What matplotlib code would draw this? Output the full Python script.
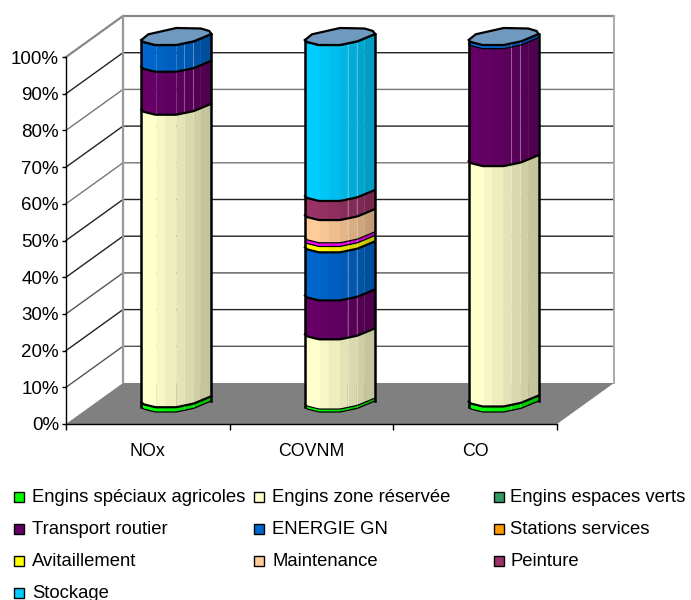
import numpy as np
import matplotlib
matplotlib.use("Agg")
import matplotlib.pyplot as plt
from matplotlib.patches import Rectangle

plt.rcParams['font.family'] = ['Liberation Sans', 'DejaVu Sans']

categories = ["NOx", "COVNM", "CO"]
series_names = ["Engins spéciaux agricoles", "Engins zone réservée", "Engins espaces verts",
                "Transport routier", "ENERGIE GN", "Stations services",
                "Avitaillement", "Autres", "Maintenance", "Peinture", "Stockage"]
series_colors = ["#00FF00", "#FFFFCC", "#339966", "#660066", "#0066CC", "#FF9900",
                 "#FFFF00", "#FF00FF", "#FFCC99", "#993366", "#00CCFF"]

# percent per category, NOx / COVNM / CO
agricoles = [1.3, 0.8, 1.5]
zone_reservee = [79.7, 19.0, 65.5]
espaces_verts = [0.0, 0.0, 0.0]
transport = [11.7, 10.6, 32.0]
energie = [7.3, 13.1, 1.0]
stations = [0.0, 0.0, 0.0]
avitaillement = [0.0, 1.6, 0.0]
autres = [0.0, 1.0, 0.0]
maintenance = [0.0, 6.2, 0.0]
peinture = [0.0, 5.2, 0.0]
stockage = [0.0, 42.5, 0.0]

series = [agricoles, zone_reservee, espaces_verts, transport, energie, stations,
          avitaillement, autres, maintenance, peinture, stockage]

legend_hidden = ["Autres"]

fig = plt.figure(figsize=(6.91, 6.0), dpi=100)
ax = fig.add_axes([66 / 691, (600 - 424) / 600, 491 / 691, 367 / 600])
ax.set_xlim(0, 3)
ax.set_ylim(0, 100)

# size of one pixel in data units
px_x = 3 / 491
px_y = 100 / 367
depth_x = 57 * px_x
depth_y = 41 * px_y


def wall_line(y, color, lw):
    ax.plot([0, depth_x, 3 + depth_x], [y, y + depth_y, y + depth_y],
            color=color, lw=lw, clip_on=False, zorder=1, solid_joinstyle='miter')


# floor and back wall
ax.fill([0, 3, 3 + depth_x, depth_x], [0, 0, depth_y, depth_y], color="#808080", lw=0, clip_on=False, zorder=1)
grid_colors = ["#555555", "#222222", "#555555", "#222222", "#222222",
               "#777777", "#222222", "#777777", "#222222"]
for y, c in zip(range(10, 100, 10), grid_colors):
    wall_line(y, c, 1.0)
wall_line(100, "#888888", 1.6)
ax.plot([depth_x, depth_x], [depth_y, 100 + depth_y], color="#999999", lw=1.6, clip_on=False, zorder=2)
ax.plot([3 + depth_x, 3 + depth_x], [depth_y, 100 + depth_y], color="#aaaaaa", lw=1.4, clip_on=False, zorder=2)

# outline of a bar section, as width fraction and pixel offset from the lowest point
low_frac = np.array([0, 0.03, 0.2, 0.5, 0.75, 1.0])
low_dy = np.array([5, 3, 0, 0, 3.7, 11])
cap_frac = np.array([1.0, 0.97, 0.85, 0.5, 0.1, 0.0])
cap_dy = np.array([11, 14, 16.5, 17, 10.7, 5])

# shading facets around the bar
facet_edges = [0, 0.22, 0.34, 0.5, 0.61, 0.74, 0.85, 1.0]
facet_shade = [1.0, 0.97, 0.93, 0.89, 0.85, 0.81, 0.77]

bar_w = 70 * px_x
base = 12 * px_y

for i, cat in enumerate(categories):
    x0 = i + 0.5 + depth_x / 2 - bar_w / 2
    bottom = 0.0
    for values, color in zip(series, series_colors):
        v = values[i]
        if v <= 0:
            continue
        top = bottom + v
        rgb = np.array(matplotlib.colors.to_rgb(color))
        for k, shade in enumerate(facet_shade):
            fr = np.linspace(facet_edges[k], facet_edges[k + 1], 8)
            dy = np.interp(fr, low_frac, low_dy) * px_y
            ax.fill(np.r_[x0 + fr * bar_w, x0 + fr[::-1] * bar_w],
                    np.r_[base + bottom + dy, base + top + dy[::-1]],
                    color=rgb * shade, lw=0.2, clip_on=False, zorder=3)
        # pale seams on the shaded side
        for fr in (0.61, 0.74):
            dy = np.interp(fr, low_frac, low_dy) * px_y
            ax.plot([x0 + fr * bar_w] * 2, [base + bottom + dy, base + top + dy],
                    color="white", alpha=0.3, lw=0.8, clip_on=False, zorder=4)
        bottom = top

    # black section edges, sides and cap
    bottom = 0.0
    edges = [0.0]
    thin = [True]
    for k, values in enumerate(series):
        if values[i] > 0:
            bottom += values[i]
            edges.append(bottom)
            # the narrow bands would vanish under a full width edge
            above = [s[i] for s in series[k + 1:] if s[i] > 0]
            thin.append(values[i] < 1.2 or (len(above) > 0 and above[0] < 1.2))
    fr = np.linspace(0, 1, 30)
    dy = np.interp(fr, low_frac, low_dy) * px_y
    for e, is_thin in zip(edges, thin):
        ax.plot(x0 + fr * bar_w, base + e + dy, color="black", lw=0.9 if is_thin else 1.6,
                clip_on=False, zorder=5)
    for side_fr in (0, 1):
        side_dy = np.interp(side_fr, low_frac, low_dy) * px_y
        ax.plot([x0 + side_fr * bar_w] * 2, [base + side_dy, base + edges[-1] + side_dy],
                color="black", lw=1.8, clip_on=False, zorder=5)
    ax.fill(np.r_[x0 + low_frac * bar_w, x0 + cap_frac * bar_w],
            np.r_[base + edges[-1] + low_dy * px_y, base + edges[-1] + cap_dy * px_y],
            facecolor="#6F99BE", edgecolor="black", lw=1.6, clip_on=False, zorder=6)

for side in ("top", "right"):
    ax.spines[side].set_visible(False)
ax.patch.set_visible(False)
for side in ("left", "bottom"):
    ax.spines[side].set_linewidth(1.0)
    ax.spines[side].set_zorder(7)

ax.set_yticks(range(0, 101, 10))
ax.set_yticklabels([f"{t}%" for t in range(0, 101, 10)], fontsize=13.5)
ax.set_xticks([0, 1, 2, 3])
ax.set_xticklabels([])
ax.set_xticks([0.5, 1.5, 2.5], minor=True)
ax.set_xticklabels(categories, minor=True, fontsize=12.8)
ax.tick_params(axis='x', which='minor', length=0, pad=14)
ax.tick_params(axis='x', which='major', length=4, width=1.0)
ax.tick_params(axis='y', which='major', length=3, width=1.0, pad=2)

# legend laid out on a fixed three column grid
col_x = [14, 254, 494]
col_text = [32, 272, 510]
row_y = [497, 529, 561, 593]
shown = [(n, c) for n, c in zip(series_names, series_colors) if n not in legend_hidden]
for k, (name, color) in enumerate(shown):
    lx = col_x[k % 3]
    ly = row_y[k // 3]
    fig.add_artist(Rectangle((lx / 691, 1 - (ly + 5) / 600), 10 / 691, 10 / 600, transform=fig.transFigure,
                             facecolor=color, edgecolor="black", lw=1.0))
    fig.text(col_text[k % 3] / 691, 1 - ly / 600, name, fontsize=13.3, va='center', ha='left', color="black")

fig.savefig("out.png", dpi=100)
